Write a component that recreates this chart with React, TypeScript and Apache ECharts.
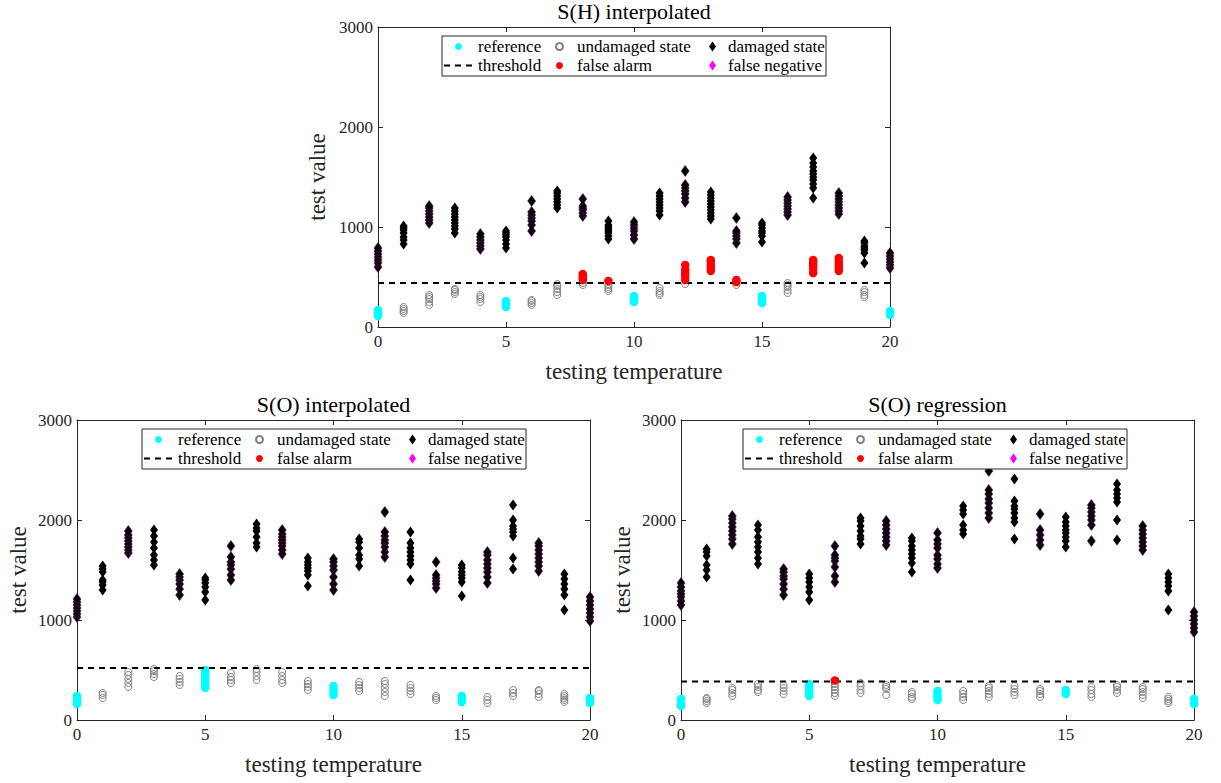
import React, { useEffect, useRef } from "react";
import * as echarts from "echarts";

// ---------- data ----------
const temperatures = [0, 1, 2, 3, 4, 5, 6, 7, 8, 9, 10, 11, 12, 13, 14, 15, 16, 17, 18, 19, 20];
const xTicks = [0, 5, 10, 15, 20];
const yTicks = [0, 1000, 2000, 3000];
const titles = ["S(H) interpolated", "S(O) interpolated", "S(O) regression"];
const thresholds = [440, 520, 385];

// S(H) interpolated
const shDamaged = [
  [600, 640, 670, 700, 730, 760, 790],
  [830, 870, 900, 940, 970, 990, 1010],
  [1040, 1070, 1100, 1130, 1160, 1190, 1210],
  [940, 980, 1010, 1040, 1070, 1100, 1130, 1160, 1190],
  [780, 810, 840, 870, 900, 930],
  [790, 830, 870, 900, 920, 940, 960],
  [960, 1020, 1060, 1090, 1120, 1150, 1260],
  [1190, 1220, 1250, 1280, 1310, 1340, 1360],
  [1110, 1140, 1170, 1190, 1210, 1280],
  [880, 910, 940, 960, 980, 1000, 1020, 1060],
  [880, 920, 960, 990, 1020, 1050],
  [1120, 1160, 1190, 1220, 1250, 1280, 1310, 1340],
  [1250, 1290, 1330, 1360, 1390, 1420, 1560],
  [1080, 1110, 1140, 1170, 1200, 1230, 1260, 1290, 1320, 1350],
  [840, 880, 910, 940, 960, 1090],
  [850, 910, 940, 960, 990, 1020, 1040],
  [1120, 1150, 1180, 1210, 1240, 1270, 1300],
  [1290, 1390, 1430, 1470, 1500, 1530, 1560, 1600, 1640, 1690],
  [1130, 1160, 1190, 1220, 1250, 1280, 1310, 1340],
  [640, 740, 770, 790, 810, 840, 860],
  [590, 620, 650, 680, 710, 740],
];
const shUndamaged = [
  [], [140, 160, 180, 200], [220, 250, 280, 300, 320], [330, 350, 370, 380], [250, 280, 300, 320],
  [], [220, 240, 260, 270], [320, 350, 380, 410, 430], [420, 440], [360, 380, 400, 420],
  [], [320, 340, 360, 390], [430], [], [420],
  [], [340, 370, 400, 420, 440], [], [], [300, 320, 350, 370], [],
];
const shReference = [
  [110, 130, 150, 170], [], [], [], [], [200, 220, 240, 260], [], [], [], [],
  [250, 270, 290, 310], [], [], [], [], [240, 260, 290, 310], [], [], [], [], [120, 140, 160],
];
const shFalseAlarm = [
  [], [], [], [], [], [], [], [], [470, 490, 510, 530], [460],
  [], [], [470, 510, 540, 570, 620], [560, 590, 620, 650, 670], [450, 470],
  [], [], [540, 580, 610, 640, 670], [560, 590, 620, 650, 690], [], [],
];

// S(O) interpolated
const soiDamaged = [
  [1030, 1060, 1090, 1120, 1150, 1180, 1210],
  [1300, 1350, 1380, 1400, 1480, 1510, 1540],
  [1670, 1700, 1730, 1760, 1790, 1820, 1850, 1890],
  [1550, 1600, 1650, 1720, 1780, 1840, 1900],
  [1250, 1310, 1360, 1400, 1430, 1460],
  [1200, 1280, 1330, 1370, 1400, 1420],
  [1400, 1450, 1510, 1550, 1580, 1630, 1740],
  [1730, 1770, 1830, 1890, 1920, 1960],
  [1660, 1700, 1740, 1770, 1800, 1830, 1860, 1900],
  [1340, 1450, 1490, 1520, 1550, 1580, 1620],
  [1300, 1360, 1430, 1500, 1540, 1580, 1610],
  [1540, 1610, 1650, 1720, 1780, 1810],
  [1630, 1680, 1730, 1770, 1800, 1840, 1880, 2080],
  [1400, 1560, 1600, 1640, 1680, 1720, 1770, 1880],
  [1320, 1360, 1390, 1420, 1450, 1580],
  [1240, 1380, 1420, 1450, 1480, 1520, 1550],
  [1370, 1430, 1480, 1520, 1560, 1600, 1650, 1680],
  [1510, 1620, 1840, 1880, 1910, 1940, 2000, 2150],
  [1490, 1540, 1580, 1620, 1660, 1700, 1740, 1770],
  [1100, 1250, 1310, 1360, 1410, 1460],
  [990, 1030, 1070, 1110, 1150, 1190, 1230],
];
const soiUndamaged = [
  [], [220, 250, 270], [330, 370, 410, 450, 480], [430, 460, 490, 510], [350, 380, 410, 440],
  [], [370, 400, 430, 470], [400, 440, 480, 510], [370, 400, 440, 480], [300, 330, 360, 390],
  [], [290, 320, 350, 380], [240, 280, 320, 360, 390], [260, 290, 320, 350], [200, 220, 240],
  [], [170, 200, 230], [240, 270, 300], [230, 260, 290, 300], [180, 200, 220, 240, 260], [],
];
const soiReference = [
  [160, 180, 210, 240], [], [], [], [], [320, 350, 380, 410, 440, 470, 500], [], [], [], [],
  [250, 280, 310, 340], [], [], [], [], [180, 210, 240], [], [], [], [], [170, 190, 220],
];
const soiFalseAlarm: number[][] = temperatures.map(() => []);

// S(O) regression
const sorDamaged = [
  [1150, 1190, 1230, 1260, 1290, 1330, 1370],
  [1430, 1500, 1550, 1640, 1680, 1710],
  [1760, 1810, 1850, 1890, 1930, 1970, 2010, 2040],
  [1560, 1620, 1680, 1730, 1780, 1830, 1900, 1950],
  [1250, 1310, 1360, 1410, 1440, 1480, 1510],
  [1200, 1280, 1330, 1380, 1420, 1460],
  [1380, 1440, 1530, 1590, 1620, 1650, 1740],
  [1760, 1810, 1840, 1890, 1940, 1990, 2020],
  [1750, 1790, 1830, 1870, 1910, 1950, 1990],
  [1480, 1570, 1620, 1660, 1700, 1740, 1790, 1820],
  [1520, 1560, 1610, 1650, 1720, 1760, 1800, 1870],
  [1860, 1900, 1950, 2060, 2100, 2140],
  [2020, 2070, 2120, 2170, 2210, 2260, 2300, 2490],
  [1810, 1980, 2020, 2070, 2110, 2140, 2190, 2410],
  [1750, 1800, 1850, 1900, 2060],
  [1730, 1790, 1830, 1870, 1900, 1940, 1980, 2030],
  [1790, 1950, 2000, 2040, 2080, 2120, 2150],
  [1800, 2000, 2180, 2220, 2260, 2300, 2360],
  [1700, 1740, 1780, 1820, 1860, 1900, 1940],
  [1100, 1290, 1340, 1380, 1420, 1460],
  [880, 920, 960, 1000, 1040, 1080],
];
const sorUndamaged = [
  [], [170, 190, 210, 220], [240, 270, 300, 320], [280, 300, 330, 360], [260, 290, 320, 350],
  [], [240, 270, 300, 330, 360], [270, 300, 340, 370], [250, 310, 330, 350], [210, 230, 260, 280],
  [], [200, 230, 260, 290], [230, 260, 290, 320, 340], [250, 280, 310, 340], [230, 260, 290, 310],
  [], [230, 260, 300, 330], [270, 300, 330, 350], [220, 250, 280, 310, 330], [170, 190, 210, 230], [],
];
const sorReference = [
  [140, 160, 190, 210], [], [], [], [], [240, 270, 300, 330, 360], [], [], [], [],
  [200, 230, 260, 290], [], [], [], [], [260, 280, 300], [], [], [], [], [160, 190, 210],
];
const sorFalseAlarm = [
  [], [], [], [], [], [], [395], [], [], [], [], [], [], [], [], [], [], [], [], [], [],
];

const plots = [
  { damaged: shDamaged, undamaged: shUndamaged, reference: shReference, falseAlarm: shFalseAlarm },
  { damaged: soiDamaged, undamaged: soiUndamaged, reference: soiReference, falseAlarm: soiFalseAlarm },
  { damaged: sorDamaged, undamaged: sorUndamaged, reference: sorReference, falseAlarm: sorFalseAlarm },
];

// ---------- layout ----------
const grids = [
  { left: 378, top: 27, width: 512, height: 300 },
  { left: 77, top: 420, width: 513, height: 300 },
  { left: 681, top: 420, width: 513, height: 300 },
];
const legendBoxes = [
  { x: 442, y: 36 },
  { x: 142, y: 429 },
  { x: 743, y: 429 },
];

const FONT = "Liberation Serif";
const AX = "#262626";

function toPoints(groups: number[][], keep: (t: number) => boolean = () => true) {
  const out: number[][] = [];
  groups.forEach((vals, i) => {
    const t = temperatures[i];
    if (!keep(t)) return;
    vals.forEach((v) => out.push([t, v]));
  });
  return out;
}

function buildOption() {
  const xAxis: any[] = [];
  const yAxis: any[] = [];
  const series: any[] = [];
  const legend: any[] = [];
  const graphic: any[] = [];

  grids.forEach((g, p) => {
    const common = {
      gridIndex: p,
      min: xTicks[0],
      max: xTicks[xTicks.length - 1],
      interval: xTicks[1] - xTicks[0],
      splitLine: { show: false },
    };
    xAxis.push({
      ...common,
      type: "value",
      position: "bottom",
      name: "testing temperature",
      nameLocation: "middle",
      nameGap: 33,
      nameTextStyle: { fontFamily: FONT, fontSize: 23, color: AX },
      axisLine: { show: true, onZero: false, lineStyle: { color: AX } },
      axisTick: { show: true, inside: true, length: 5, lineStyle: { color: AX } },
      axisLabel: { fontFamily: FONT, fontSize: 17, color: AX, margin: 6, formatter: (v: number) => String(v) },
    });
    xAxis.push({
      ...common,
      type: "value",
      position: "top",
      axisLine: { show: true, onZero: false, lineStyle: { color: AX } },
      axisTick: { show: true, inside: true, length: 5, lineStyle: { color: AX } },
      axisLabel: { show: false },
    });
    const yc = {
      gridIndex: p,
      type: "value",
      min: yTicks[0],
      max: yTicks[yTicks.length - 1],
      interval: yTicks[1] - yTicks[0],
      splitLine: { show: false },
    };
    yAxis.push({
      ...yc,
      position: "left",
      name: "test value",
      nameLocation: "middle",
      nameGap: p === 0 ? 49 : 47,
      nameTextStyle: { fontFamily: FONT, fontSize: 23, color: AX },
      axisLine: { show: true, onZero: false, lineStyle: { color: AX } },
      axisTick: { show: true, inside: true, length: 5, lineStyle: { color: AX } },
      axisLabel: { fontFamily: FONT, fontSize: 17, color: AX, margin: 5, formatter: (v: number) => String(v) },
    });
    yAxis.push({
      ...yc,
      position: "right",
      axisLine: { show: true, onZero: false, lineStyle: { color: AX } },
      axisTick: { show: true, inside: true, length: 5, lineStyle: { color: AX } },
      axisLabel: { show: false },
    });

    const d = plots[p];
    const idx = { xAxisIndex: 2 * p, yAxisIndex: 2 * p };
    series.push({
      ...idx,
      name: "reference",
      type: "scatter",
      symbol: "circle",
      symbolSize: 8.5,
      itemStyle: { color: "#00ffff", opacity: 1 },
      z: 2,
      data: toPoints(d.reference),
    });
    series.push({
      ...idx,
      name: "undamaged state",
      type: "scatter",
      symbol: "circle",
      symbolSize: 7,
      itemStyle: { color: "rgba(255,255,255,0)", borderColor: "#808080", borderWidth: 1, opacity: 1 },
      z: 2,
      data: toPoints(d.undamaged),
    });
    series.push({
      ...idx,
      name: "damaged state",
      type: "scatter",
      symbol: "diamond",
      symbolSize: [8, 11],
      itemStyle: { color: "#000000", opacity: 1 },
      z: 3,
      data: toPoints(d.damaged, (t) => t % 2 === 1),
    });
    series.push({
      ...idx,
      name: "damaged state",
      type: "scatter",
      symbol: "diamond",
      symbolSize: [8, 11],
      itemStyle: { color: "#000000", borderColor: "#5c125c", borderWidth: 0.6, opacity: 1 },
      z: 3,
      data: toPoints(d.damaged, (t) => t % 2 === 0),
    });
    series.push({
      ...idx,
      name: "threshold",
      type: "line",
      symbol: "none",
      itemStyle: { color: "#000000" },
      lineStyle: { color: "#000000", width: 2, type: [6, 5] },
      z: 4,
      data: [
        [xTicks[0], thresholds[p]],
        [xTicks[xTicks.length - 1], thresholds[p]],
      ],
    });
    series.push({
      ...idx,
      name: "false alarm",
      type: "scatter",
      symbol: "circle",
      symbolSize: 8.5,
      itemStyle: { color: "#ff0000", opacity: 1 },
      z: 5,
      data: toPoints(d.falseAlarm),
    });
    series.push({
      ...idx,
      name: "false negative",
      type: "scatter",
      symbol: "diamond",
      symbolSize: [8, 11],
      itemStyle: { color: "#ff00ff", opacity: 1 },
      z: 5,
      data: [],
    });

    const lb = legendBoxes[p];
    graphic.push({
      type: "rect",
      shape: { x: lb.x, y: lb.y, width: 384, height: 40 },
      style: { fill: "#ffffff", stroke: AX, lineWidth: 1 },
      z: 10,
    });
    const ts = { fontFamily: FONT, fontSize: 17, color: "#000", lineHeight: 16 };
    const base = { orient: "vertical", top: lb.y + 2, itemGap: 2, z: 11, padding: 0, selectedMode: false };
    legend.push({
      ...base,
      textStyle: ts,
      left: lb.x + 1,
      itemWidth: 29,
      itemHeight: 7,
      data: ["reference", { name: "threshold", itemStyle: { opacity: 0 } }],
    });
    legend.push({
      ...base,
      textStyle: { ...ts, padding: [0, 0, 0, 9] },
      left: lb.x + 113,
      itemWidth: 7,
      itemHeight: 7,
      data: ["undamaged state", "false alarm"],
    });
    legend.push({
      ...base,
      textStyle: { ...ts, padding: [0, 0, 0, 7] },
      left: lb.x + 267,
      itemWidth: 7,
      itemHeight: 10,
      data: ["damaged state", "false negative"],
    });

    graphic.push({
      type: "text",
      x: g.left + g.width / 2,
      y: g.top - 27,
      style: { text: titles[p], fontFamily: FONT, fontSize: 22, fill: "#000", textAlign: "center" },
      z: 10,
    });
  });

  return {
    animation: false,
    backgroundColor: "#ffffff",
    textStyle: { fontFamily: FONT },
    grid: grids.map((g) => ({ ...g, show: false, containLabel: false })),
    xAxis,
    yAxis,
    series,
    legend,
    graphic,
  };
}

export default function App() {
  const ref = useRef<HTMLDivElement>(null);
  useEffect(() => {
    if (!ref.current) return;
    const chart = echarts.init(ref.current, undefined, { renderer: "svg" });
    chart.setOption(buildOption() as any);
    return () => chart.dispose();
  }, []);
  return (
    <div
      ref={ref}
      style={{ position: "fixed", left: 0, top: 0, width: 1221, height: 783, background: "#fff" }}
    />
  );
}
